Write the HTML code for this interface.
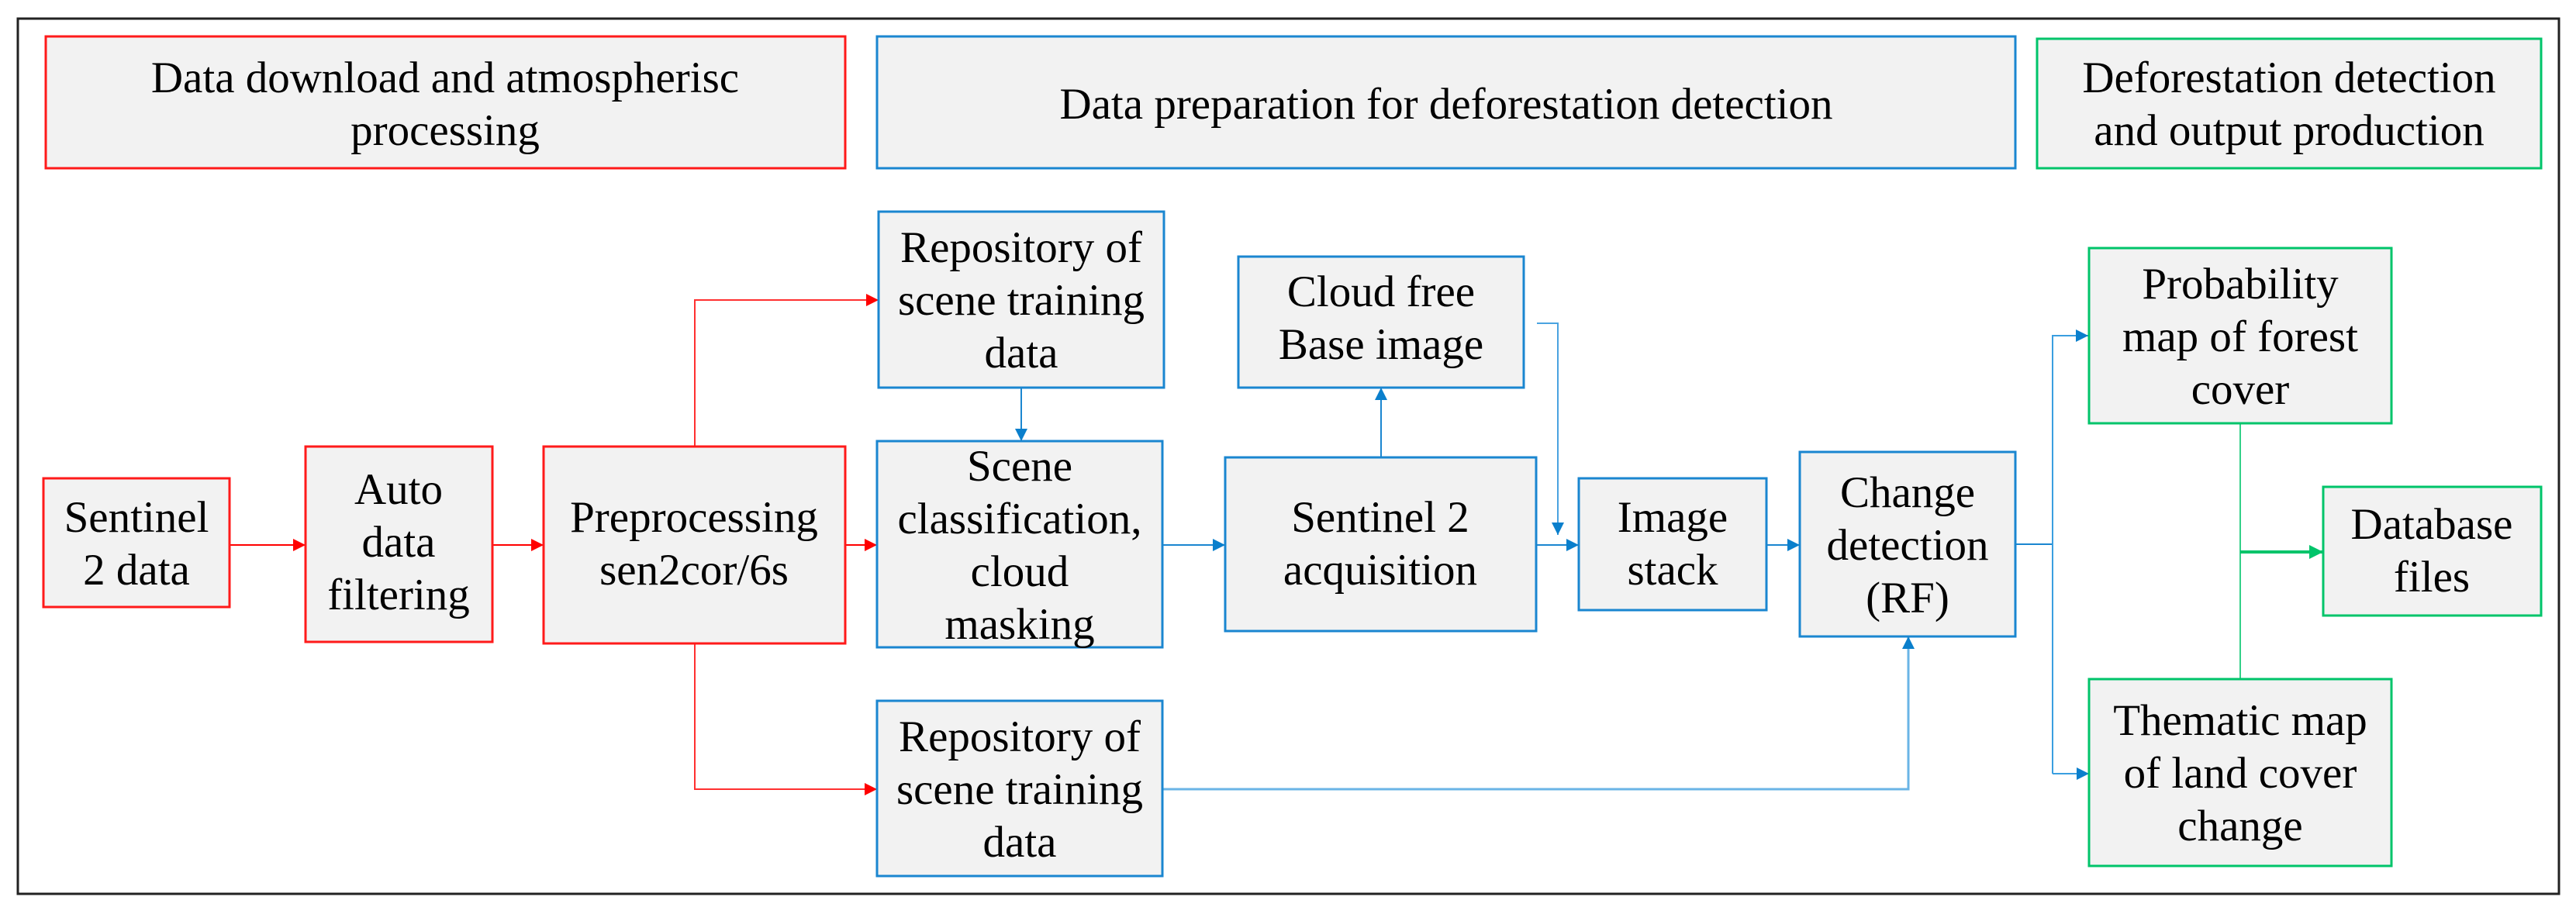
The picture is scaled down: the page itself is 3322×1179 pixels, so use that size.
<!DOCTYPE html>
<html><head><meta charset="utf-8"><style>
html,body{margin:0;padding:0;background:#fff;}
svg{display:block;font-family:"Liberation Serif","Times New Roman","DejaVu Serif",serif;}
text{font-family:"Liberation Serif","Times New Roman","DejaVu Serif",serif;font-size:57px;fill:#000;text-anchor:middle;}
</style></head><body>
<svg width="3322" height="1179" viewBox="0 0 3322 1179" xmlns="http://www.w3.org/2000/svg" font-family="Liberation Serif, Times New Roman, DejaVu Serif, serif">
<defs>
<marker id="ab" viewBox="0 0 10 10" refX="10" refY="5" markerWidth="16" markerHeight="16" markerUnits="userSpaceOnUse" orient="auto"><path d="M0,0L10,5L0,10z" fill="#0a7fcc"/></marker>
<marker id="ag" viewBox="0 0 10 10" refX="10" refY="5" markerWidth="18" markerHeight="18" markerUnits="userSpaceOnUse" orient="auto"><path d="M0,0L10,5L0,10z" fill="#00c46a"/></marker>
<marker id="ar2" viewBox="0 0 10 10" refX="10" refY="5" markerWidth="16" markerHeight="16" markerUnits="userSpaceOnUse" orient="auto"><path d="M0,0L10,5L0,10z" fill="#ff0000"/></marker>
</defs>
<rect x="23" y="24" width="3277" height="1129" fill="#fff" stroke="#222" stroke-width="3"/>

<g stroke-width="3" fill="#f2f2f2">
<rect x="59" y="47" width="1031" height="170" stroke="#ff1a1a"/>
<rect x="1131" y="47" width="1468" height="170" stroke="#1a86d0"/>
<rect x="2627" y="50" width="650" height="167" stroke="#00c46a"/>
</g>

<g fill="none" stroke-width="2">
<line x1="296" y1="703" x2="394" y2="703" stroke="#ff0000" marker-end="url(#ar2)"/>
<line x1="635" y1="703" x2="701" y2="703" stroke="#ff0000" marker-end="url(#ar2)"/>
<line x1="1090" y1="703" x2="1131" y2="703" stroke="#ff0000" marker-end="url(#ar2)"/>
<polyline points="896,576 896,387 1133,387" stroke="#ff3030" marker-end="url(#ar2)"/>
<polyline points="896,830 896,1018 1131,1018" stroke="#ff3030" marker-end="url(#ar2)"/>
<line x1="1317" y1="500" x2="1317" y2="569" stroke="#1a86d0" marker-end="url(#ab)"/>
<line x1="1499" y1="703" x2="1580" y2="703" stroke="#1a86d0" marker-end="url(#ab)"/>
<line x1="1781" y1="590" x2="1781" y2="500" stroke="#1a86d0" marker-end="url(#ab)"/>
<polyline points="1982,417 2009,417 2009,690" stroke="#4aa3e0" marker-end="url(#ab)"/>
<line x1="1981" y1="703" x2="2036" y2="703" stroke="#1a86d0" marker-end="url(#ab)"/>
<line x1="2278" y1="703" x2="2321" y2="703" stroke="#1a86d0" marker-end="url(#ab)"/>
<polyline points="1499,1018 2461,1018 2461,821" stroke="#6ab4e6" stroke-width="3" marker-end="url(#ab)"/>
<line x1="2599" y1="702" x2="2647" y2="702" stroke="#1a86d0"/>
<polyline points="2647,998 2647,433 2693,433" stroke="#3a9ee0" marker-end="url(#ab)"/>
<polyline points="2647,998 2694,998" stroke="#3a9ee0" marker-end="url(#ab)"/>
<line x1="2889" y1="546" x2="2889" y2="876" stroke="#33d088"/>
<line x1="2889" y1="712" x2="2996" y2="712" stroke="#00c46a" stroke-width="4" marker-end="url(#ag)"/>
</g>

<g stroke-width="3" fill="#f2f2f2">
<rect x="56" y="617" width="240" height="166" stroke="#ff1a1a"/>
<rect x="394" y="576" width="241" height="252" stroke="#ff1a1a"/>
<rect x="701" y="576" width="389" height="254" stroke="#ff1a1a"/>
<rect x="1133" y="273" width="368" height="227" stroke="#1a86d0"/>
<rect x="1131" y="569" width="368" height="266" stroke="#1a86d0"/>
<rect x="1131" y="904" width="368" height="226" stroke="#1a86d0"/>
<rect x="1597" y="331" width="368" height="169" stroke="#1a86d0"/>
<rect x="1580" y="590" width="401" height="224" stroke="#1a86d0"/>
<rect x="2036" y="617" width="242" height="170" stroke="#1a86d0"/>
<rect x="2321" y="583" width="278" height="238" stroke="#1a86d0"/>
<rect x="2694" y="320" width="390" height="226" stroke="#00c46a"/>
<rect x="2694" y="876" width="390" height="241" stroke="#00c46a"/>
<rect x="2996" y="628" width="281" height="166" stroke="#00c46a"/>
</g>

<g font-family="Liberation Serif, Times New Roman, DejaVu Serif, serif" font-size="57" text-anchor="middle" fill="#000">
<text x="574" y="119">Data download and atmospherisc</text>
<text x="574" y="187">processing</text>
<text x="1865" y="153">Data preparation for deforestation detection</text>
<text x="2952" y="119">Deforestation detection</text>
<text x="2952" y="187">and output production</text>

<text x="176" y="686">Sentinel</text>
<text x="176" y="754">2 data</text>
<text x="514" y="650">Auto</text>
<text x="514" y="718">data</text>
<text x="514" y="786">filtering</text>
<text x="895" y="686">Preprocessing</text>
<text x="895" y="754">sen2cor/6s</text>
<text x="1317" y="338">Repository of</text>
<text x="1317" y="406">scene training</text>
<text x="1317" y="474">data</text>
<text x="1315" y="620">Scene</text>
<text x="1315" y="688">classification,</text>
<text x="1315" y="756">cloud</text>
<text x="1315" y="824">masking</text>
<text x="1315" y="969">Repository of</text>
<text x="1315" y="1037">scene training</text>
<text x="1315" y="1105">data</text>
<text x="1781" y="395">Cloud free</text>
<text x="1781" y="463">Base image</text>
<text x="1780" y="686">Sentinel 2</text>
<text x="1780" y="754">acquisition</text>
<text x="2157" y="686">Image</text>
<text x="2157" y="754">stack</text>
<text x="2460" y="654">Change</text>
<text x="2460" y="722">detection</text>
<text x="2460" y="790">(RF)</text>
<text x="2889" y="385">Probability</text>
<text x="2889" y="453">map of forest</text>
<text x="2889" y="521">cover</text>
<text x="2889" y="948">Thematic map</text>
<text x="2889" y="1016">of land cover</text>
<text x="2889" y="1084">change</text>
<text x="3136" y="695">Database</text>
<text x="3136" y="763">files</text>
</g>
</svg>
</body></html>
